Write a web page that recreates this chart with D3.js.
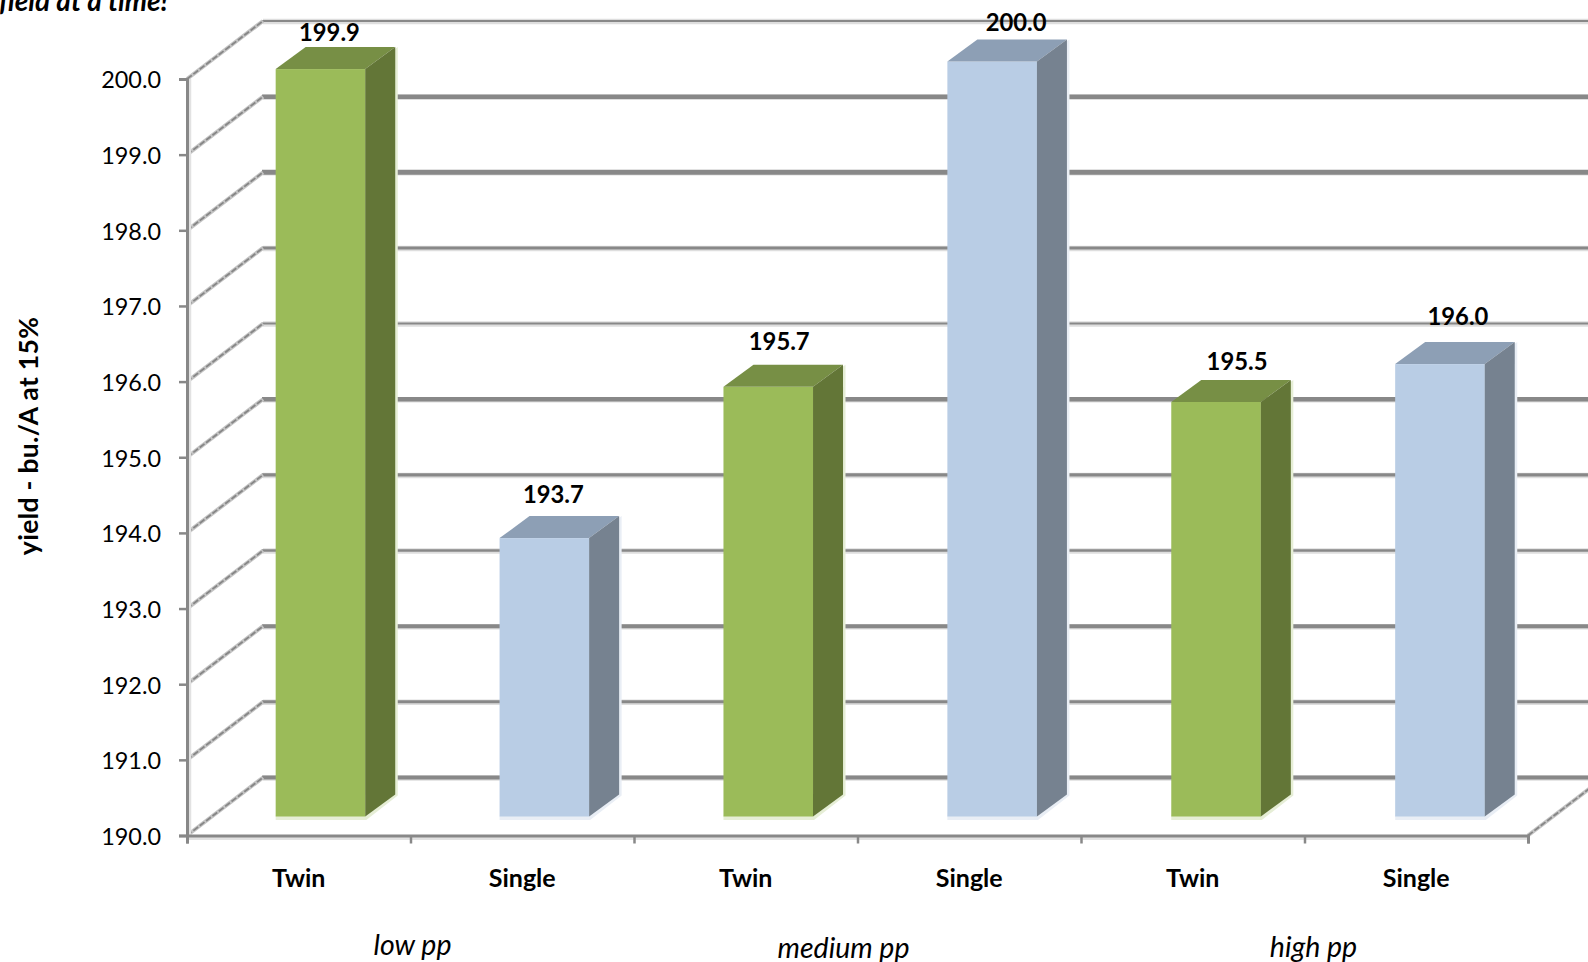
<!DOCTYPE html>
<html><head><meta charset="utf-8">
<style>html,body{margin:0;padding:0;background:#fff;overflow:hidden}svg{display:block}text{font-family:Lato,"Open Sans",sans-serif;fill:#000}</style>
<script src="https://cdn.jsdelivr.net/npm/d3@7"></script>
</head><body><svg id="c" width="1588" height="962"></svg>
<script>
const categories = ["Twin","Single","Twin","Single","Twin","Single"];
const values = [199.9,193.7,195.7,200.0,195.5,196.0];
const valueLabels = ["199.9","193.7","195.7","200.0","195.5","196.0"];
const groups = ["low pp","medium pp","high pp"];
const yTicks = [190,191,192,193,194,195,196,197,198,199,200];
const yTitle = "yield - bu./A at 15%";
const clippedTitle = "field at a time!";

// layout
const W=1588, plotL=187, plotR=1528, plotB=835.5, plotT=79;
const depth={x:76,y:-58}, barShift={x:21.5,base:-19,top:-17.5}, barDepth={x:30,y:-22};
const labelNudge=[[9,-15],[9,-22],[11,-23],[24,-17],[21,-18],[18,-26]];
const groupNudge=[[2,945],[-14,948],[9,947]];
const colors={Twin:{front:"#9BBB59",top:"#778F45",side:"#637637"},Single:{front:"#B9CDE5",top:"#8D9FB5",side:"#768290"}};
const gridCol="#888888";
const gridWidths=[4,3,4,2.5,3.2,4.5,2,3,5,4.5,2.2];

const svg=d3.select("#c");
const y=d3.scaleLinear().domain([190,200]).range([plotB,plotT]);
const x=d3.scaleBand().domain(d3.range(categories.length)).range([plotL,plotR+2.4]).paddingInner(0.6).paddingOuter(0.3);
const xEdges=d3.scaleLinear().domain([0,categories.length]).range([plotL,plotR]);
const step=xEdges(1)-xEdges(0);

// clipped heading
svg.append("text").attr("x",-1).attr("y",11).attr("font-size",28).attr("font-weight",700).attr("font-style","italic").text(clippedTitle);

// back wall grid
const g=svg.append("g");
g.selectAll("line.sh").data(yTicks).join("line").attr("class","sh").attr("x1",plotL+depth.x).attr("x2",W)
  .attr("y1",d=>y(d)+depth.y+0.5).attr("y2",d=>y(d)+depth.y+0.5).attr("stroke","#dedede").attr("stroke-width",5.5);
g.selectAll("line.gr").data(yTicks).join("line").attr("class","gr").attr("x1",plotL+depth.x-1).attr("x2",W)
  .attr("y1",d=>y(d)+depth.y).attr("y2",d=>y(d)+depth.y).attr("stroke",gridCol).attr("stroke-width",(d,i)=>gridWidths[i]);

// side wall diagonals
function diag(sel,x0,ticks){
  sel.selectAll("line.a").data(ticks).join("line").attr("class","a").attr("x1",x0).attr("y1",d=>y(d)).attr("x2",x0+depth.x).attr("y2",d=>y(d)+depth.y)
    .attr("stroke","#c4c4c4").attr("stroke-width",4);
  sel.selectAll("line.b").data(ticks).join("line").attr("class","b").attr("x1",x0).attr("y1",d=>y(d)).attr("x2",x0+depth.x).attr("y2",d=>y(d)+depth.y)
    .attr("stroke","#868686").attr("stroke-width",1.8).attr("stroke-dasharray","6 2");
}
diag(svg.append("g"),plotL,yTicks);
diag(svg.append("g"),plotR,[190]);

// axes
const axisShadow=svg.append("g");
axisShadow.append("line").attr("x1",plotL-1).attr("x2",plotR).attr("y1",plotB+3).attr("y2",plotB+3).attr("stroke","#e2e2e2").attr("stroke-width",3);
axisShadow.append("line").attr("x1",plotL+3).attr("x2",plotL+3).attr("y1",plotT).attr("y2",plotB).attr("stroke","#e2e2e2").attr("stroke-width",2.5);

const yAxis=d3.axisLeft(y).tickValues(yTicks).tickFormat(d3.format(".1f")).tickSize(8).tickPadding(18);
const ya=svg.append("g").attr("transform",`translate(${plotL},0)`).call(yAxis);
ya.select(".domain").attr("stroke",gridCol).attr("stroke-width",3);
ya.selectAll(".tick line").attr("stroke",gridCol).attr("stroke-width",2.5);
ya.selectAll(".tick text").attr("font-size",23.4).attr("dy","0.38em").attr("font-family","Lato").attr("fill","#000");

const xAxis=d3.axisBottom(xEdges).tickValues(d3.range(categories.length+1)).tickFormat("").tickSize(8);
const xa=svg.append("g").attr("transform",`translate(0,${plotB})`).call(xAxis);
xa.select(".domain").attr("stroke",gridCol).attr("stroke-width",3);
xa.selectAll(".tick line").attr("stroke",gridCol).attr("stroke-width",2.5);

// bars
const barData=values.map((v,i)=>({v,i,cat:categories[i]}));
const bars=svg.selectAll("g.bar").data(barData).join("g").attr("class","bar");
const L=d=>x(d.i)+barShift.x, R=d=>L(d)+x.bandwidth(), T=d=>y(d.v)+barShift.top, B=()=>y(190)+barShift.base;
// pale halo at base and far side
bars.append("polygon").attr("fill",d=>d.cat==="Twin"?"#e6eed6":"#e9eef5")
  .attr("points",d=>[[L(d),B()],[L(d),B()+3.5],[R(d)+1,B()+3.5],[R(d)+barDepth.x+2.5,B()+barDepth.y+1],[R(d)+barDepth.x+2.5,T(d)+barDepth.y],[R(d),T(d)]].join(" "));
bars.append("rect").attr("x",L).attr("y",T).attr("width",x.bandwidth()).attr("height",d=>B()-T(d)).attr("fill",d=>colors[d.cat].front);
bars.append("polygon").attr("fill",d=>colors[d.cat].top)
  .attr("points",d=>[[L(d),T(d)],[L(d)+barDepth.x,T(d)+barDepth.y],[R(d)+barDepth.x,T(d)+barDepth.y],[R(d),T(d)]].join(" "));
bars.append("polygon").attr("fill",d=>colors[d.cat].side)
  .attr("points",d=>[[R(d),T(d)],[R(d)+barDepth.x,T(d)+barDepth.y],[R(d)+barDepth.x,B()+barDepth.y],[R(d),B()]].join(" "));

// value labels
svg.selectAll("text.val").data(barData).join("text").attr("class","val")
  .attr("x",d=>L(d)+x.bandwidth()/2+labelNudge[d.i][0])
  .attr("y",d=>T(d)+barDepth.y+labelNudge[d.i][1])
  .attr("dy","0.36em").attr("text-anchor","middle").attr("font-size",23.8).attr("font-weight",700)
  .text(d=>valueLabels[d.i]);

// category labels
svg.selectAll("text.cat").data(barData).join("text").attr("class","cat")
  .attr("x",d=>xEdges(d.i+0.5)).attr("y",878).attr("dy","0.36em").attr("text-anchor","middle")
  .attr("font-size",25).attr("font-weight",700).text(d=>d.cat);

// group labels
const gx=d3.scalePoint().domain(groups).range([plotL+step,plotR-step]);
svg.selectAll("text.grp").data(groups).join("text").attr("class","grp")
  .attr("x",(d,i)=>gx(d)+groupNudge[i][0]).attr("y",(d,i)=>groupNudge[i][1]).attr("dy","0.36em").attr("text-anchor","middle")
  .attr("font-size",28.5).attr("font-style","italic").text(d=>d);

// y title
svg.append("text").attr("transform","translate(28.5,436) rotate(-90)").attr("dy","0.36em").attr("text-anchor","middle")
  .attr("font-size",26.5).attr("letter-spacing",0.3).attr("font-weight",700).text(yTitle);
</script></body></html>
